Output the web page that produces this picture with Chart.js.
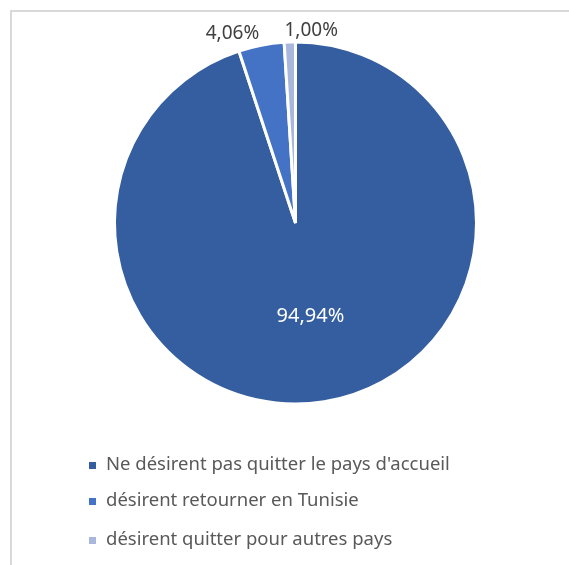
<!DOCTYPE html>
<html>
<head>
<meta charset="utf-8">
<script src="https://cdn.jsdelivr.net/npm/chart.js@4"></script>
<style>
  body { margin: 0; background: #fff; overflow: hidden; }
  #wrap { position: relative; width: 569px; height: 565px; }
  #frame { position: absolute; left: 10px; top: 10px; width: 600px; height: 600px;
           border-left: 2px solid #d9d9d9; border-top: 2px solid #d9d9d9; pointer-events: none; }
</style>
</head>
<body>
<div id="wrap">
  <canvas id="pieChart" width="569" height="565"></canvas>
  <div id="frame"></div>
</div>
<script>
// data
const categories = ["Ne désirent pas quitter le pays d'accueil", 'désirent retourner en Tunisie', 'désirent quitter pour autres pays'];
const shares = [94.94, 4.06, 1.00];
const colors = ['#345ea0', '#4472c4', '#a9b7dc'];

const FONT = '"Noto Sans", "Open Sans", sans-serif';

const fmt = v => v.toFixed(2).replace('.', ',') + '%';

// percent labels on / beside the slices
const sliceLabels = {
    id: 'sliceLabels',
    afterDatasetsDraw(chart) {
        const ctx = chart.ctx;
        const arcs = chart.getDatasetMeta(0).data;
        ctx.save();
        ctx.textBaseline = 'middle';
        arcs.forEach((arc, i) => {
            const mid = (arc.startAngle + arc.endAngle) / 2;
            const c = Math.cos(mid), s = Math.sin(mid);
            if (shares[i] > 50) {
                const r = arc.outerRadius * 0.52;
                ctx.font = '20px ' + FONT;
                ctx.fillStyle = '#ffffff';
                ctx.textAlign = 'center';
                ctx.fillText(fmt(shares[i]), arc.x + c * r, arc.y + s * r);
            } else {
                const r = arc.outerRadius + 11;
                ctx.font = '19px ' + FONT;
                ctx.fillStyle = '#404040';
                ctx.textAlign = c < -0.1 ? 'right' : 'left';
                const x = arc.x + c * r + (c < -0.1 ? 0 : -5);
                ctx.fillText(fmt(shares[i]), x, arc.y + s * r - 1);
            }
        });
        ctx.restore();
    }
};

// vertical legend under the pie
const sideLegend = {
    id: 'sideLegend',
    afterDraw(chart) {
        const ctx = chart.ctx;
        const rows = [465, 501, 540];
        ctx.save();
        ctx.font = '18.5px ' + FONT;
        ctx.textBaseline = 'middle';
        ctx.textAlign = 'left';
        categories.forEach((name, i) => {
            ctx.fillStyle = colors[i];
            ctx.fillRect(89, rows[i] - 3, 7, 7);
            ctx.fillStyle = '#595959';
            ctx.fillText(name, 106, rows[i]);
        });
        ctx.restore();
    }
};

const ctx = document.getElementById('pieChart').getContext('2d');
new Chart(ctx, {
    type: 'pie',
    data: {
        labels: categories,
        datasets: [{
            data: shares,
            backgroundColor: colors,
            borderColor: '#ffffff',
            borderWidth: 3
        }]
    },
    options: {
        responsive: false,
        animation: false,
        layout: { padding: { top: 40, bottom: 159, left: 113, right: 91 } },
        plugins: {
            legend: { display: false },
            tooltip: { enabled: false }
        }
    },
    plugins: [sliceLabels, sideLegend]
});
</script>
</body>
</html>
